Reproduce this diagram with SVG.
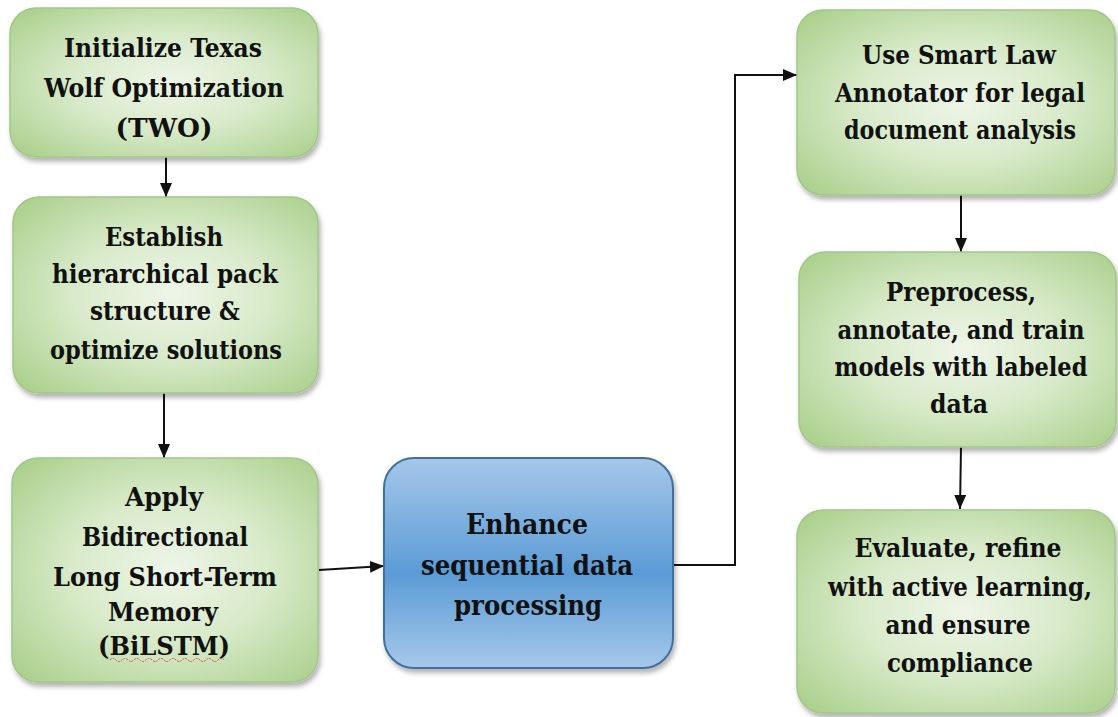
<svg xmlns="http://www.w3.org/2000/svg" width="1118" height="717" viewBox="0 0 1118 717">
  <style>
    .lbl { font-family: "DejaVu Serif Condensed", "DejaVu Serif", "Liberation Serif", serif; font-stretch: condensed; font-weight: 700; font-size: 26px; fill: #111; text-anchor: middle; }
    .big { font-size: 28px; }
    .green { fill: url(#gGreen); stroke: #a3c68a; stroke-width: 1.5; filter: url(#shadow); }
    .blue { fill: url(#gBlue); stroke: #41719c; stroke-width: 2; filter: url(#shadow); }
    .conn { fill: none; stroke: #111; stroke-width: 2; marker-end: url(#arrow); }
  </style>
  <defs>
    <radialGradient id="gGreen" cx="0.52" cy="0.5" r="0.72">
      <stop offset="0" stop-color="#eef5e8"/>
      <stop offset="0.45" stop-color="#d8eac9"/>
      <stop offset="1" stop-color="#a6cd86"/>
    </radialGradient>
    <linearGradient id="gBlue" x1="0" y1="0" x2="0" y2="1">
      <stop offset="0" stop-color="#a5c7ea"/>
      <stop offset="0.55" stop-color="#5b9bd5"/>
      <stop offset="1" stop-color="#a6c8ea"/>
    </linearGradient>
    <filter id="shadow" x="-10%" y="-10%" width="125%" height="125%">
      <feGaussianBlur in="SourceAlpha" stdDeviation="2.5"/>
      <feOffset dx="2" dy="4" result="b"/>
      <feComponentTransfer><feFuncA type="linear" slope="0.3"/></feComponentTransfer>
      <feMerge><feMergeNode/><feMergeNode in="SourceGraphic"/></feMerge>
    </filter>
    <marker id="arrow" viewBox="0 0 14 12" refX="14" refY="6" markerWidth="14" markerHeight="12" markerUnits="userSpaceOnUse" orient="auto">
      <path d="M0,0 L14,6 L0,12 z" fill="#111"/>
    </marker>
  </defs>

  <rect width="1118" height="717" fill="#fff"/>

  <!-- connectors -->
  <g id="connectors">
    <path class="conn" d="M166,157 V197"/>
    <path class="conn" d="M164,393 V458"/>
    <path class="conn" d="M319,570 L384,566"/>
    <path class="conn" d="M673,565 H735 V75 H797"/>
    <path class="conn" d="M961,195 V252"/>
    <path class="conn" d="M961,447 L960,509"/>
  </g>

  <g id="n1">
    <rect class="green" x="10" y="8" width="308" height="149" rx="26"/>
    <text class="lbl" x="163" y="57" textLength="198" lengthAdjust="spacingAndGlyphs">Initialize Texas</text>
    <text class="lbl" x="164" y="97" textLength="240" lengthAdjust="spacingAndGlyphs">Wolf Optimization</text>
    <text class="lbl" x="164" y="137" textLength="97" lengthAdjust="spacingAndGlyphs">(TWO)</text>
  </g>

  <g id="n2">
    <rect class="green" x="13" y="197" width="305" height="196" rx="26"/>
    <text class="lbl" x="164" y="246" textLength="118" lengthAdjust="spacingAndGlyphs">Establish</text>
    <text class="lbl" x="165" y="283" textLength="226" lengthAdjust="spacingAndGlyphs">hierarchical pack</text>
    <text class="lbl" x="165" y="320" textLength="150" lengthAdjust="spacingAndGlyphs">structure &amp;</text>
    <text class="lbl" x="166" y="359" textLength="232" lengthAdjust="spacingAndGlyphs">optimize solutions</text>
  </g>

  <g id="n3">
    <rect class="green" x="12" y="458" width="306" height="224" rx="26"/>
    <text class="lbl" x="164" y="506" textLength="78" lengthAdjust="spacingAndGlyphs">Apply</text>
    <text class="lbl" x="165" y="546" textLength="166" lengthAdjust="spacingAndGlyphs">Bidirectional</text>
    <text class="lbl" x="165" y="586" textLength="224" lengthAdjust="spacingAndGlyphs">Long Short-Term</text>
    <text class="lbl" x="163" y="621" textLength="110" lengthAdjust="spacingAndGlyphs">Memory</text>
    <text class="lbl" x="164" y="655" textLength="132" lengthAdjust="spacingAndGlyphs">(BiLSTM)</text>
    <path d="M110,660 q3,-3 6,0 t6,0 t6,0 t6,0 t6,0 t6,0 t6,0 t6,0 t6,0 t6,0 t6,0 t6,0 t6,0 t6,0 t6,0 t6,0 t6,0 t6,0 t6,0" fill="none" stroke="#d9534f" stroke-width="1" stroke-dasharray="2 1"/>
  </g>

  <g id="n4">
    <rect class="blue" x="384" y="458" width="289" height="210" rx="30"/>
    <text class="lbl big" x="527" y="534" textLength="122" lengthAdjust="spacingAndGlyphs">Enhance</text>
    <text class="lbl big" x="527" y="575" textLength="212" lengthAdjust="spacingAndGlyphs">sequential data</text>
    <text class="lbl big" x="528" y="615" textLength="148" lengthAdjust="spacingAndGlyphs">processing</text>
  </g>

  <g id="n5">
    <rect class="green" x="797" y="10" width="318" height="185" rx="26"/>
    <text class="lbl" x="959" y="64" textLength="194" lengthAdjust="spacingAndGlyphs">Use Smart Law</text>
    <text class="lbl" x="960" y="102" textLength="250" lengthAdjust="spacingAndGlyphs">Annotator for legal</text>
    <text class="lbl" x="960" y="139" textLength="232" lengthAdjust="spacingAndGlyphs">document analysis</text>
  </g>

  <g id="n6">
    <rect class="green" x="799" y="252" width="317" height="195" rx="26"/>
    <text class="lbl" x="961" y="301" textLength="150" lengthAdjust="spacingAndGlyphs">Preprocess,</text>
    <text class="lbl" x="961" y="339" textLength="247" lengthAdjust="spacingAndGlyphs">annotate, and train</text>
    <text class="lbl" x="961" y="376" textLength="253" lengthAdjust="spacingAndGlyphs">models with labeled</text>
    <text class="lbl" x="959" y="413" textLength="58" lengthAdjust="spacingAndGlyphs">data</text>
  </g>

  <g id="n7">
    <rect class="green" x="797" y="510" width="318" height="203" rx="26"/>
    <text class="lbl" x="958" y="557" textLength="207" lengthAdjust="spacingAndGlyphs">Evaluate, refine</text>
    <text class="lbl" x="960" y="596" textLength="264" lengthAdjust="spacingAndGlyphs">with active learning,</text>
    <text class="lbl" x="958" y="634" textLength="145" lengthAdjust="spacingAndGlyphs">and ensure</text>
    <text class="lbl" x="960" y="672" textLength="146" lengthAdjust="spacingAndGlyphs">compliance</text>
  </g>
</svg>
